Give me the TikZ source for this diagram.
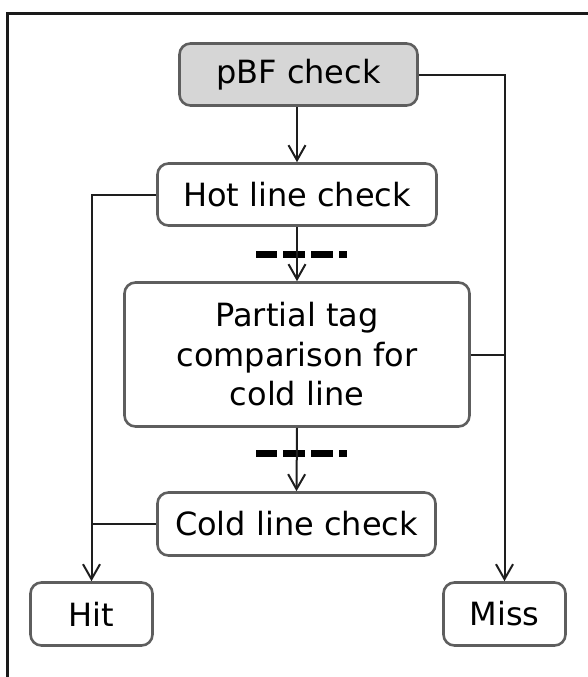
\documentclass[tikz,border=0pt]{standalone}
\usepackage{fontspec}
\setmainfont{DejaVu Sans}
\usetikzlibrary{arrows.meta}
\definecolor{boxgray}{HTML}{5E5E5E}
\definecolor{linec}{HTML}{1E1E1E}
\definecolor{framec}{HTML}{1A1A1A}
\definecolor{pbffill}{HTML}{D6D6D6}

\begin{document}
\begin{tikzpicture}[x=1pt,y=-1pt,
  box/.style={draw=boxgray, line width=2.6pt, rounded corners=11pt,
    font=\fontsize{32}{39.5}\selectfont, inner sep=0pt, align=center},
  link/.style={line width=2pt, draw=linec},
  arr/.style={link, -{Straight Barb[length=15pt,width=17pt]}},
  stage/.style={line width=7pt, draw=black,
    dash pattern=on 21pt off 6pt on 22pt off 6pt on 22pt off 6pt on 8pt off 20pt}
]
\useasboundingbox (0,0) rectangle (587,677);

% outer frame (top and left edges)
\coordinate (ftl) at (7.5,13.5);
\coordinate (ftr) at (590,13.5);
\coordinate (fbl) at (7.5,680);
\draw[line width=3.2pt, framec] (ftr) -- (ftl) -- (fbl);

% process boxes
\node[box, fill=pbffill, minimum width=238pt, minimum height=62pt] (pbf) at (298.5,74.5) {pBF check};
\node[box, minimum width=279pt, minimum height=62pt] (hot) at (297,194.5) {Hot line check};
\node[box, minimum width=345pt, minimum height=144pt] (ptc) at (297,354.5) {Partial tag\\comparison for\\cold line};
\node[box, minimum width=278pt, minimum height=63pt] (cold) at (296.5,524) {Cold line check};
\node[box, minimum width=122pt, minimum height=63pt] (hit) at (91.5,614) {Hit};
\node[box, minimum width=122pt, minimum height=63pt] (miss) at (504.5,614) {Miss};

% stage boundaries
\coordinate (s1a) at (256,254.5);
\coordinate (s1b) at (347,254.5);
\coordinate (s2a) at (256,453);
\coordinate (s2b) at (347,453);
\draw[stage] (s1a) -- (s1b);
\draw[stage] (s2a) -- (s2b);

% main flow
\draw[arr] (pbf.south -| hot.north) -- (hot.north);
\draw[arr] (hot.south) -- (ptc.north);
\draw[arr] (ptc.south) -- (cold.north);

% miss path
\draw[arr] (pbf.east) -| (miss.north);
\draw[link] (ptc.east) -- (ptc.east -| miss.north);

% hit path
\draw[arr] (hot.west) -| (hit.north);
\draw[link] (cold.west) -- (cold.west -| hit.north);
\end{tikzpicture}
\end{document}
